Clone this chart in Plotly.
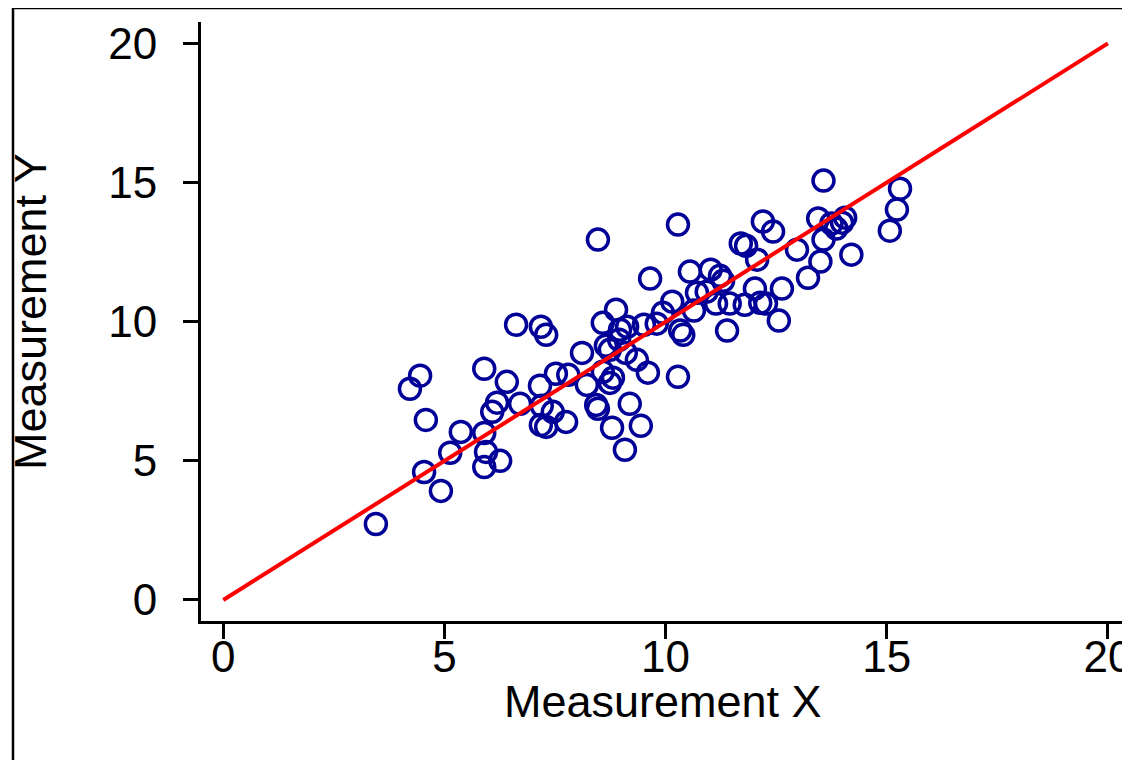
import plotly.graph_objects as go

# Scatter data
meas_x = [3.45, 4.22, 4.45, 4.58, 4.54, 4.92, 5.13, 5.37, 5.90, 5.90,
          5.94, 5.90, 6.08, 6.19, 6.26, 6.41, 6.62, 6.71, 7.18, 7.30,
          7.16, 7.20, 7.18, 7.30, 7.52, 7.45, 7.75, 7.80, 8.11, 8.22,
          8.47, 8.43, 8.47, 8.58, 8.58, 8.65, 8.74, 8.79, 8.81, 8.88,
          8.95, 8.97, 9.10, 9.08, 9.19, 9.35, 9.44, 9.51, 9.65, 9.60,
          9.80, 9.94, 10.15, 10.28, 10.33, 10.40, 10.28, 10.55, 10.64, 10.71,
          10.93, 11.02, 11.14, 11.23, 11.30, 11.39, 11.45, 11.70, 11.82, 11.79,
          12.07, 12.02, 12.14, 12.20, 12.27, 12.43, 12.56, 12.63, 12.97, 13.22,
          13.45, 13.50, 13.57, 13.57, 13.75, 13.86, 13.99, 14.06, 14.20, 15.07,
          15.23, 15.30, 9.13, 8.74]
meas_y = [2.73, 7.59, 8.06, 6.47, 4.60, 3.92, 5.29, 6.04, 8.31, 6.00,
          5.32, 4.78, 6.76, 7.09, 5.00, 7.84, 9.89, 7.05, 9.82, 9.53,
          7.70, 6.98, 6.29, 6.22, 8.13, 6.76, 6.40, 8.09, 8.88, 7.73,
          12.95, 7.01, 6.87, 8.20, 9.96, 9.14, 7.80, 6.19, 7.99, 10.43,
          9.35, 9.71, 8.88, 5.40, 7.05, 8.63, 6.26, 9.89, 11.55, 8.17,
          9.93, 10.32, 10.72, 13.49, 9.68, 9.53, 8.02, 11.80, 10.40, 11.04,
          11.08, 11.87, 10.65, 11.65, 11.47, 9.68, 10.65, 12.81, 12.73, 10.61,
          12.23, 11.19, 10.68, 13.60, 10.65, 13.24, 10.04, 11.19, 12.59, 11.58,
          13.71, 12.16, 15.07, 12.95, 13.53, 13.35, 13.56, 13.74, 12.41, 13.27,
          14.03, 14.78, 9.82, 8.99]

# Reference line y = x
line_x = [0, 20]
line_y = [0, 20]

tick_vals = [0, 5, 10, 15, 20]
tick_text = ["0", "5", "10", "15", "20"]

FONT = "Liberation Sans"
FS = 44

fig = go.Figure()
fig.add_trace(go.Scatter(
    x=meas_x, y=meas_y, mode="markers",
    marker=dict(symbol="circle-open", size=21, color="#010198",
                line=dict(width=3.5, color="#010198")),
    showlegend=False, hoverinfo="skip"))
fig.add_trace(go.Scatter(
    x=line_x, y=line_y, mode="lines",
    line=dict(color="#ff0000", width=4),
    showlegend=False, hoverinfo="skip"))

# The page body adds an 8px margin; compensate so the figure fills the window.
OFF = 8
W, H = 1130 - OFF, 760 - OFF
L = 201 - OFF
T = 22 - OFF
B = H - (621 - OFF)
R = 0
pw, ph = W - L - R, H - T - B

def px_to_paper_x(px):
    return (px - OFF - L) / pw

def px_to_paper_y(py):
    return (H - B - (py - OFF)) / ph

axis_common = dict(
    showgrid=False, zeroline=False, showline=True, linecolor="black",
    linewidth=3, ticks="outside", ticklen=15, tickwidth=2.5,
    tickcolor="black", tickvals=tick_vals, ticktext=tick_text,
    ticklabeloverflow="allow",
    tickfont=dict(family=FONT, size=FS, color="black"))

fig.update_layout(
    width=W, height=H,
    margin=dict(l=L, r=R, t=T, b=B, pad=0, autoexpand=False),
    paper_bgcolor="white", plot_bgcolor="white",
    xaxis=dict(range=[-0.504, 20.5], ticklabelstandoff=-20, **axis_common),
    yaxis=dict(range=[-0.755, 20.77], ticklabelstandoff=17, **axis_common),
    font=dict(family=FONT, size=FS, color="black"),
    annotations=[
        dict(text="Measurement X", xref="paper", yref="paper",
             x=px_to_paper_x(663), y=px_to_paper_y(702),
             xanchor="center", yanchor="middle", showarrow=False,
             font=dict(family=FONT, size=FS + 1, color="black")),
        dict(text="Measurement Y", xref="paper", yref="paper",
             x=px_to_paper_x(31), y=px_to_paper_y(312), textangle=-90,
             xanchor="center", yanchor="middle", showarrow=False,
             font=dict(family=FONT, size=FS + 1, color="black")),
    ],
    shapes=[
        dict(type="line", xref="paper", yref="paper",
             x0=px_to_paper_x(13), x1=px_to_paper_x(13),
             y0=px_to_paper_y(8), y1=px_to_paper_y(770),
             line=dict(color="black", width=2.5)),
        dict(type="line", xref="paper", yref="paper",
             x0=px_to_paper_x(13), x1=px_to_paper_x(1140),
             y0=px_to_paper_y(8), y1=px_to_paper_y(8),
             line=dict(color="black", width=2.5)),
    ],
)

fig.write_html("out.html")
